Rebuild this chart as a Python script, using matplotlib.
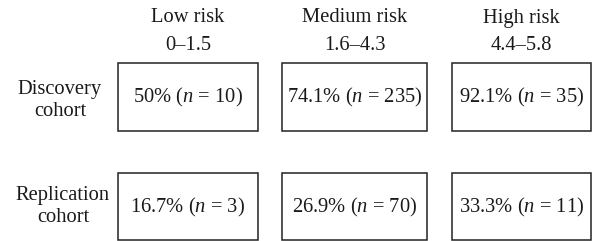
import matplotlib
matplotlib.use("Agg")
import matplotlib.pyplot as plt
from matplotlib.patches import Rectangle

# ---- data ----
risk_groups = ["Low risk", "Medium risk", "High risk"]
score_ranges = ["0\u20131.5", "1.6\u20134.3", "4.4\u20135.8"]
cohorts = ["Discovery\ncohort", "Replication\ncohort"]
discovery_pct = [50, 74.1, 92.1]
discovery_n = [10, 235, 35]
replication_pct = [16.7, 26.9, 33.3]
replication_n = [3, 70, 11]

# ---- layout (pixels) ----
W, H = 594, 241
col_left = [118, 282, 452]
col_right = [258, 427, 591]
row_top = [62.5, 173]
row_bottom = [130.5, 239.5]
label_x = [60, 63]
label_dy = [4, 0]

plt.rcParams['font.family'] = ['Liberation Serif', 'DejaVu Serif']
plt.rcParams['mathtext.fontset'] = 'custom'
plt.rcParams['mathtext.rm'] = 'Liberation Serif'
plt.rcParams['mathtext.it'] = 'Liberation Serif:italic'

fig = plt.figure(figsize=(W / 100, H / 100), dpi=100)
ax = fig.add_axes([0, 0, 1, 1])
ax.set_xlim(0, W)
ax.set_ylim(H, 0)
ax.axis('off')

fs = 14.8
tc = '#1a1a1a'

for j, (g, r) in enumerate(zip(risk_groups, score_ranges)):
    cx = (col_left[j] + col_right[j]) / 2
    ax.text(cx, 18, g, ha='center', va='center', fontsize=fs, color=tc)
    ax.text(cx, 46, r, ha='center', va='center', fontsize=fs, color=tc)

rows = [(discovery_pct, discovery_n), (replication_pct, replication_n)]
for i, (pcts, ns) in enumerate(rows):
    cy = (row_top[i] + row_bottom[i]) / 2
    ax.text(label_x[i], cy + label_dy[i], cohorts[i], ha='center', va='center',
            fontsize=fs, color=tc, linespacing=1.2, multialignment='center')
    for j in range(3):
        ax.add_patch(Rectangle((col_left[j], row_top[i]),
                               col_right[j] - col_left[j],
                               row_bottom[i] - row_top[i],
                               fill=False, edgecolor='#222222', linewidth=1.1))
        cx = (col_left[j] + col_right[j]) / 2
        ax.text(cx, cy + 1, f"{pcts[j]:g}% ($n$ = {ns[j]})", ha='center',
                va='center', fontsize=fs, color=tc)

fig.savefig("out.png", dpi=100)
